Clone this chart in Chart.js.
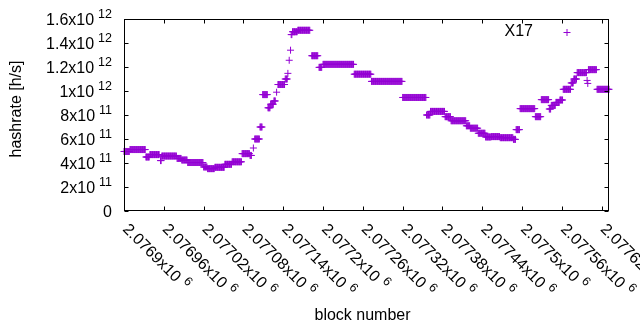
<!DOCTYPE html>
<html>
<head>
<meta charset="utf-8">
<title>X17 hashrate</title>
<script src="https://cdn.jsdelivr.net/npm/chart.js@4.4.1/dist/chart.umd.min.js"></script>
<style>
    html, body { margin: 0; padding: 0; background: #fff; }
    canvas { display: block; }
</style>
</head>
<body>
<canvas id="hashChart" width="640" height="330"></canvas>
<script>
// Hashrate plateaus: first block, last block, hashrate [h/s]
const runStart = [
    2076900, 2076909, 2076933, 2076939, 2076955, 2076957, 2076980, 2076987, 2076996, 2077020,
    2077026, 2077037, 2077052, 2077063, 2077078, 2077090, 2077095, 2077097, 2077105, 2077109,
    2077117, 2077121, 2077126, 2077130, 2077132, 2077143, 2077147, 2077149, 2077151, 2077152,
    2077154, 2077162, 2077183, 2077194, 2077200, 2077247, 2077273, 2077320, 2077356, 2077362,
    2077384, 2077393, 2077416, 2077422, 2077434, 2077445, 2077454, 2077467, 2077487, 2077491,
    2077497, 2077520, 2077529, 2077541, 2077544, 2077551, 2077557, 2077562, 2077574, 2077578,
    2077583, 2077598, 2077599, 2077600, 2077613
];
const runEnd = [
    2076908, 2076932, 2076938, 2076953, 2076956, 2076979, 2076986, 2076995, 2077019, 2077025,
    2077036, 2077051, 2077062, 2077077, 2077089, 2077092, 2077095, 2077104, 2077108, 2077116,
    2077120, 2077125, 2077128, 2077130, 2077142, 2077146, 2077147, 2077149, 2077151, 2077153,
    2077161, 2077180, 2077192, 2077198, 2077246, 2077272, 2077319, 2077355, 2077361, 2077383,
    2077392, 2077415, 2077421, 2077433, 2077444, 2077453, 2077466, 2077486, 2077490, 2077496,
    2077519, 2077528, 2077540, 2077543, 2077550, 2077556, 2077561, 2077573, 2077577, 2077582,
    2077597, 2077598, 2077599, 2077612, 2077631
];
const runRate = [
    4.96e11, 5.12e11, 4.50e11, 4.70e11, 4.20e11, 4.58e11, 4.38e11, 4.25e11, 4.04e11, 3.67e11,
    3.53e11, 3.64e11, 3.89e11, 4.10e11, 4.78e11, 4.63e11, 5.25e11, 6.00e11, 7.00e11, 9.70e11,
    8.60e11, 8.90e11, 9.17e11, 9.90e11, 1.054e12, 1.10e12, 1.147e12, 1.256e12, 1.34e12, 1.47e12,
    1.494e12, 1.506e12, 1.294e12, 1.197e12, 1.222e12, 1.14e12, 1.08e12, 9.46e11, 8.00e11, 8.30e11,
    7.86e11, 7.52e11, 7.10e11, 6.90e11, 6.48e11, 6.17e11, 6.20e11, 6.11e11, 5.97e11, 6.78e11,
    8.53e11, 7.86e11, 9.28e11, 8.50e11, 8.80e11, 9.05e11, 9.25e11, 1.014e12, 1.067e12, 1.10e12,
    1.153e12, 1.088e12, 1.063e12, 1.178e12, 1.014e12
];

const seriesLabel = 'X17';
const xTitle = 'block number';
const yTitle = 'hashrate [h/s]';

const xMin = 2076900;
const xMax = 2077631;
const xTickValues = [2076900, 2076960, 2077020, 2077080, 2077140, 2077200, 2077260,
                     2077320, 2077380, 2077440, 2077500, 2077560, 2077620];
const xTickText = ['2.0769x10', '2.07696x10', '2.07702x10', '2.07708x10', '2.07714x10',
                   '2.0772x10', '2.07726x10', '2.07732x10', '2.07738x10', '2.07744x10',
                   '2.0775x10', '2.07756x10', '2.07762x10'];
const xTickExp = '6';

const yMin = 0;
const yMax = 1.6e12;
const yTickValues = [0, 2e11, 4e11, 6e11, 8e11, 1e12, 1.2e12, 1.4e12, 1.6e12];
const yTickText = ['0', '2x10', '4x10', '6x10', '8x10', '1x10', '1.2x10', '1.4x10', '1.6x10'];
const yTickExp = ['', '11', '11', '11', '11', '12', '12', '12', '12'];

const purple = '#9400d3';
const fontMain = '16px "Liberation Sans", Arial, sans-serif';
const fontExp = '12.5px "Liberation Sans", Arial, sans-serif';
const ticLen = 4;

// one point per block inside every plateau
function buildPoints() {
    const pts = [];
    runStart.forEach((start, i) => {
        for (let b = start; b <= runEnd[i]; b++) {
            pts.push({ x: b, y: runRate[i] });
        }
    });
    return pts;
}

// draws "text" followed by a raised exponent, starting at (x, baseline)
function drawPower(ctx, text, exp, x, y, gap) {
    ctx.font = fontMain;
    ctx.fillText(text, x, y);
    if (!exp) return;
    const w = ctx.measureText(text).width;
    ctx.font = fontExp;
    ctx.fillText(exp, x + w + gap, y - 6.5);
}

function powerWidth(ctx, text, exp, gap) {
    ctx.font = fontMain;
    let w = ctx.measureText(text).width;
    if (exp) {
        ctx.font = fontExp;
        w += gap + ctx.measureText(exp).width;
    }
    return w;
}

// gnuplot style frame: border, inward tics, labels, key
const gnuplotFrame = {
    id: 'gnuplotFrame',
    afterDraw(chart) {
        const { ctx, chartArea: area } = chart;
        const xs = chart.scales.x;
        const ys = chart.scales.y;
        const L = Math.round(area.left) + 0.5;
        const R = Math.round(area.right) - 0.5;
        const T = Math.round(area.top) + 0.5;
        const B = Math.round(area.bottom) - 0.5;

        ctx.save();
        ctx.strokeStyle = '#000';
        ctx.lineWidth = 1;
        ctx.strokeRect(L, T, R - L, B - T);

        ctx.beginPath();
        ys.ticks.forEach(t => {
            const py = Math.round(ys.getPixelForValue(t.value)) + 0.5;
            ctx.moveTo(L, py); ctx.lineTo(L + ticLen, py);
            ctx.moveTo(R, py); ctx.lineTo(R - ticLen, py);
        });
        xs.ticks.forEach(t => {
            const px = Math.round(xs.getPixelForValue(t.value)) + 0.5;
            ctx.moveTo(px, B); ctx.lineTo(px, B - ticLen);
            ctx.moveTo(px, T); ctx.lineTo(px, T + ticLen);
        });
        ctx.stroke();

        ctx.fillStyle = '#000';
        ctx.textAlign = 'left';
        ctx.textBaseline = 'alphabetic';

        // y tick labels, right aligned
        ys.ticks.forEach((t, i) => {
            const py = ys.getPixelForValue(t.value);
            const w = powerWidth(ctx, yTickText[i], yTickExp[i], 4);
            drawPower(ctx, yTickText[i], yTickExp[i], area.left - 12 - w, py + 5.5, 4);
        });

        // x tick labels, rotated down to the right
        xs.ticks.forEach((t, i) => {
            const px = xs.getPixelForValue(t.value);
            ctx.save();
            ctx.translate(px - 2, area.bottom + 19);
            ctx.rotate(Math.PI / 4);
            drawPower(ctx, xTickText[i], xTickExp, 0, 0, 5);
            ctx.restore();
        });

        // axis titles
        ctx.font = fontMain;
        ctx.textAlign = 'center';
        ctx.textBaseline = 'middle';
        ctx.fillText(xTitle, (area.left + area.right) / 2 - 4, 316);
        ctx.save();
        ctx.translate(17, (area.top + area.bottom) / 2 - 6);
        ctx.rotate(-Math.PI / 2);
        ctx.fillText(yTitle, 0, 0);
        ctx.restore();

        // key
        ctx.textAlign = 'right';
        ctx.fillText(seriesLabel, 533, 32);
        ctx.strokeStyle = purple;
        ctx.beginPath();
        ctx.moveTo(563.5, 32.5); ctx.lineTo(570.5, 32.5);
        ctx.moveTo(567, 29); ctx.lineTo(567, 36);
        ctx.stroke();
        ctx.restore();
    }
};

class HashrateChart {
    constructor(canvasId) {
        this.canvasId = canvasId;
        this.chart = null;
        this.createChart();
    }

    createChart() {
        const ctx = document.getElementById(this.canvasId).getContext('2d');

        this.chart = new Chart(ctx, {
            type: 'scatter',
            data: {
                datasets: [{
                    label: seriesLabel,
                    data: buildPoints(),
                    pointStyle: 'cross',
                    pointRadius: 3.5,
                    borderColor: purple,
                    backgroundColor: purple,
                    borderWidth: 1,
                    clip: false
                }]
            },
            options: {
                responsive: false,
                animation: false,
                layout: {
                    padding: { left: 124, right: 31, top: 19, bottom: 119 }
                },
                plugins: {
                    legend: { display: false },
                    tooltip: { enabled: false }
                },
                scales: {
                    x: {
                        type: 'linear',
                        min: xMin,
                        max: xMax,
                        grid: { display: false, drawTicks: false },
                        border: { display: false },
                        ticks: { display: false },
                        afterBuildTicks: scale => {
                            scale.ticks = xTickValues.map(v => ({ value: v }));
                        }
                    },
                    y: {
                        type: 'linear',
                        min: yMin,
                        max: yMax,
                        grid: { display: false, drawTicks: false },
                        border: { display: false },
                        ticks: { display: false },
                        afterBuildTicks: scale => {
                            scale.ticks = yTickValues.map(v => ({ value: v }));
                        }
                    }
                }
            },
            plugins: [gnuplotFrame]
        });
    }
}

window.hashrateChart = new HashrateChart('hashChart');
</script>
</body>
</html>
